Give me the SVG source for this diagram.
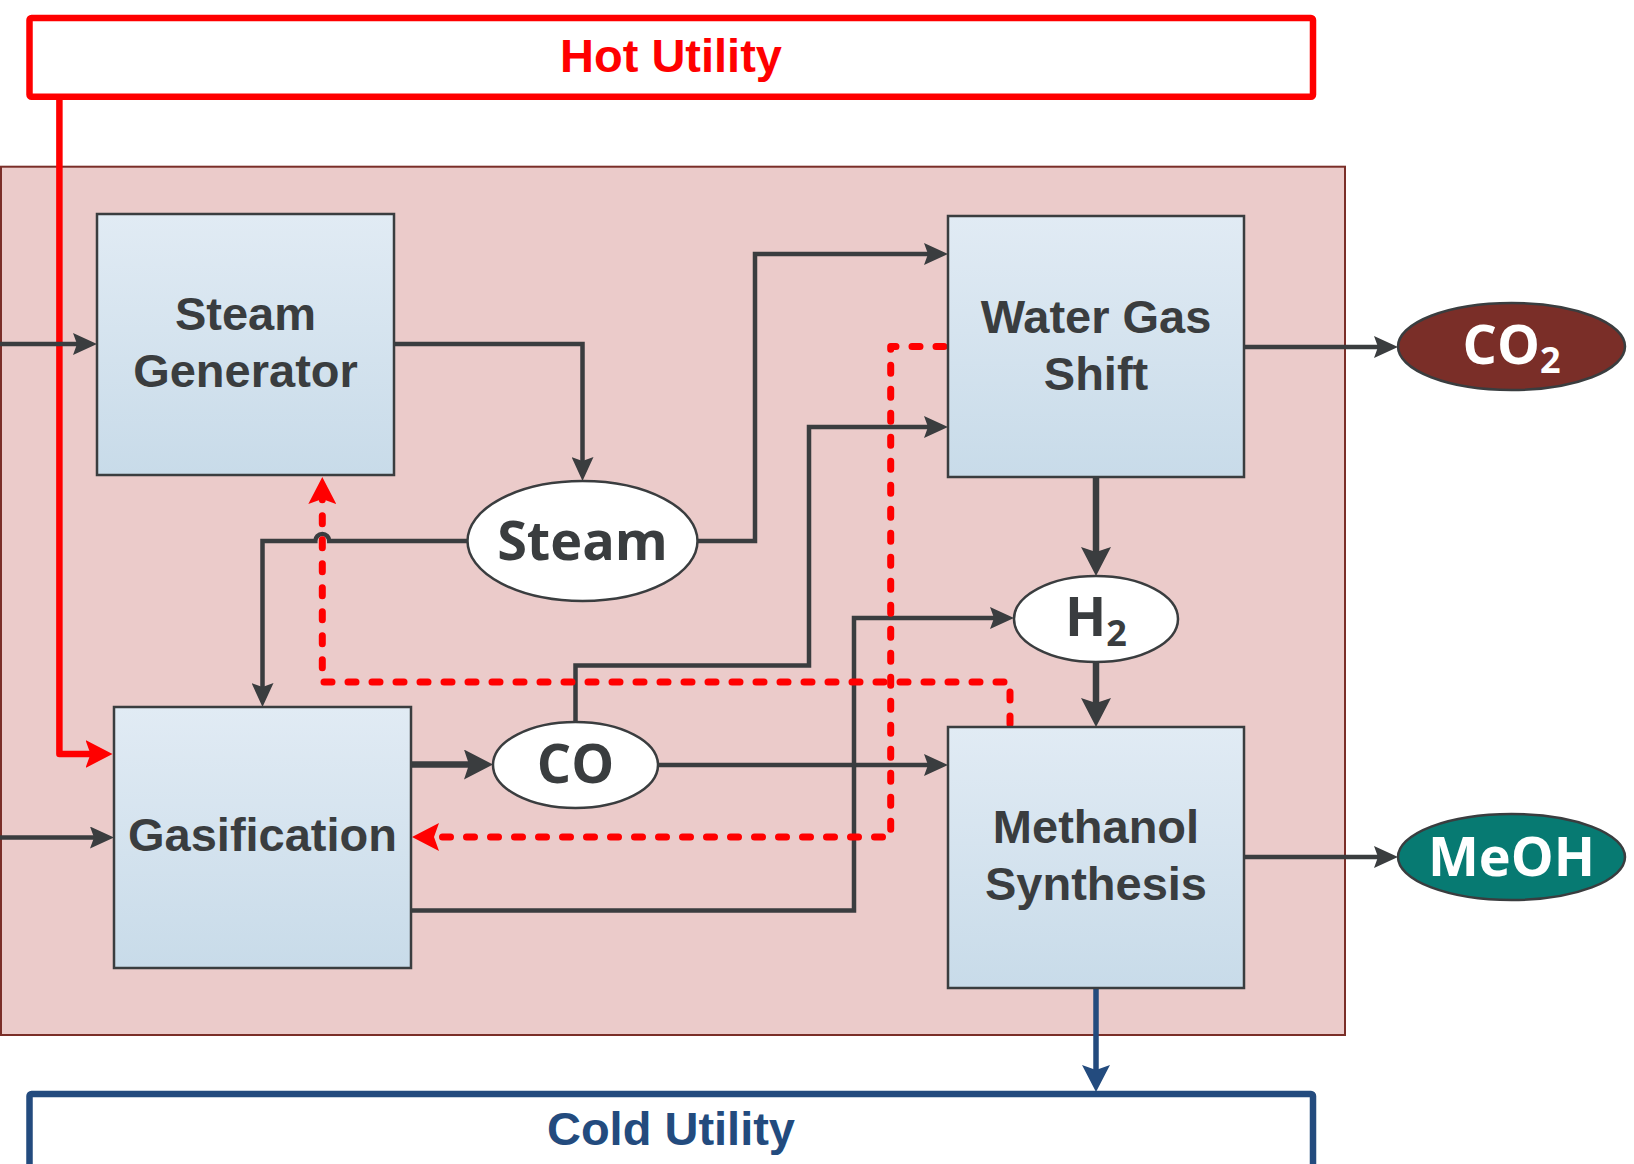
<svg xmlns="http://www.w3.org/2000/svg" width="1634" height="1164" viewBox="0 0 1634 1164">
  <style>
    .proc { stroke: #3A3D3F; stroke-width: 2.5; fill: url(#boxGrad); }
    .ell { stroke: #3A3D3F; stroke-width: 2.5; fill: #FFFFFF; }
    .ptext { font-family: "Liberation Sans", Arial, sans-serif; font-weight: bold; font-size: 47px; fill: #3A3D3F; text-anchor: middle; }
    .etext { font-family: "Open Sans", "Noto Sans", sans-serif; font-weight: bold; font-size: 54px; fill: #3A3D3F; text-anchor: middle; }
    .sub { font-size: 36px; }
    .white { fill: #FFFFFF; }
    .flow { fill: none; stroke: #3A3D3F; stroke-width: 4.5; stroke-linejoin: miter; }
    .flow-thick { fill: none; stroke: #3A3D3F; stroke-width: 6.5; }
    .heat { fill: none; stroke: #FF0000; stroke-width: 7; stroke-dasharray: 8 16; stroke-linecap: round; stroke-linejoin: round; }
    .hot { fill: none; stroke: #FF0000; stroke-width: 6.5; stroke-linejoin: round; }
    .cold { fill: none; stroke: #234B7E; stroke-width: 5.5; }
    .utext { font-family: "Liberation Sans", Arial, sans-serif; font-weight: bold; font-size: 47px; text-anchor: middle; }
  </style>
  <defs>
    <linearGradient id="boxGrad" x1="0" y1="0" x2="0" y2="1">
      <stop offset="0" stop-color="#E1EBF4"/>
      <stop offset="1" stop-color="#C8DBE9"/>
    </linearGradient>
    <marker id="arrDark" markerUnits="userSpaceOnUse" markerWidth="24" markerHeight="22" viewBox="0 0 24 22" refX="12" refY="11" orient="auto">
      <path d="M0,0 L24,11 L0,22 L4,11 Z" fill="#3A3D3F"/>
    </marker>
    <marker id="arrBig" markerUnits="userSpaceOnUse" markerWidth="29" markerHeight="30" viewBox="0 0 29 30" refX="14" refY="15" orient="auto">
      <path d="M0,0 L29,15 L0,30 L5,15 Z" fill="#3A3D3F"/>
    </marker>
    <marker id="arrRed" markerUnits="userSpaceOnUse" markerWidth="27" markerHeight="28" viewBox="0 0 27 28" refX="13" refY="14" orient="auto">
      <path d="M0,0 L27,14 L0,28 L5,14 Z" fill="#FF0000"/>
    </marker>
    <marker id="arrBlue" markerUnits="userSpaceOnUse" markerWidth="27" markerHeight="28" viewBox="0 0 27 28" refX="13" refY="14" orient="auto">
      <path d="M0,0 L27,14 L0,28 L5,14 Z" fill="#234B7E"/>
    </marker>
  </defs>

  <g id="hot-utility">
    <rect x="29.5" y="18" width="1283.5" height="78.7" rx="2" fill="#FFFFFF" stroke="#FF0000" stroke-width="6.5"/>
    <text class="utext" x="671" y="71.5" fill="#FF0000">Hot Utility</text>
  </g>

  <g id="process-boundary">
    <rect x="1" y="166.7" width="1344" height="868.3" fill="#EBCBCA" stroke="#7A2E28" stroke-width="2"/>
  </g>

  <g id="cold-utility">
    <rect x="29.5" y="1094" width="1283.5" height="110" rx="2" fill="#FFFFFF" stroke="#234B7E" stroke-width="6.5"/>
    <text class="utext" x="671" y="1145" fill="#234B7E">Cold Utility</text>
  </g>

  <g id="connectors">
    <path class="hot" d="M59.4,97 L59.4,754 L98.5,754" marker-end="url(#arrRed)"/>
    <path class="flow" d="M0,344 L85,344" marker-end="url(#arrDark)"/>
    <path class="flow" d="M0,837.5 L102,837.5" marker-end="url(#arrDark)"/>
    <path class="flow" d="M394,344 L582.5,344 L582.5,469" marker-end="url(#arrDark)"/>
    <path class="flow" d="M467,541 L329.3,541 A7,7 0 0 0 315.3,541 L262.5,541 L262.5,695" marker-end="url(#arrDark)"/>
    <path class="flow" d="M697,541 L755,541 L755,254 L936,254" marker-end="url(#arrDark)"/>
    <path class="flow" d="M575.5,722 L575.5,665.5 L809,665.5 L809,427 L936,427" marker-end="url(#arrDark)"/>
    <path class="flow-thick" d="M411,764.5 L478,764.5" marker-end="url(#arrBig)"/>
    <path class="flow" d="M658,765 L936,765" marker-end="url(#arrDark)"/>
    <path class="flow" d="M411,910.5 L854,910.5 L854,618 L1002,618" marker-end="url(#arrDark)"/>
    <path class="flow-thick" d="M1096,477 L1096,561" marker-end="url(#arrBig)"/>
    <path class="flow-thick" d="M1096,662 L1096,712" marker-end="url(#arrBig)"/>
    <path class="flow" d="M1244,347 L1386,347" marker-end="url(#arrDark)"/>
    <path class="flow" d="M1244,857 L1386,857" marker-end="url(#arrDark)"/>
    <path class="cold" d="M1096,988 L1096,1078" marker-end="url(#arrBlue)"/>
    <path class="heat" d="M1010,724 L1010,682 L322.3,682 L322.3,491" marker-end="url(#arrRed)"/>
    <path class="heat" d="M944,346.5 L890.7,346.5 L890.7,837 L426,837" marker-end="url(#arrRed)"/>
  </g>

  <g id="steam-generator">
    <rect class="proc" x="97" y="214" width="297" height="261"/>
    <text class="ptext" x="245.5" y="330">Steam</text>
    <text class="ptext" x="245.5" y="387">Generator</text>
  </g>

  <g id="water-gas-shift">
    <rect class="proc" x="948" y="216" width="296" height="261"/>
    <text class="ptext" x="1096" y="333">Water Gas</text>
    <text class="ptext" x="1096" y="390">Shift</text>
  </g>

  <g id="gasification">
    <rect class="proc" x="114" y="707" width="297" height="261"/>
    <text class="ptext" x="262.5" y="851">Gasification</text>
  </g>

  <g id="methanol-synthesis">
    <rect class="proc" x="948" y="727" width="296" height="261"/>
    <text class="ptext" x="1096" y="843">Methanol</text>
    <text class="ptext" x="1096" y="900">Synthesis</text>
  </g>

  <g id="steam">
    <ellipse class="ell" cx="582.5" cy="541" rx="115" ry="60"/>
    <text class="etext" x="582.5" y="560">Steam</text>
  </g>

  <g id="co">
    <ellipse class="ell" cx="575.5" cy="765" rx="82.5" ry="43"/>
    <text class="etext" x="575.5" y="783">CO</text>
  </g>

  <g id="h2">
    <ellipse class="ell" cx="1096" cy="619" rx="82" ry="43"/>
    <text class="etext" x="1096" y="636">H<tspan class="sub" dy="10">2</tspan></text>
  </g>

  <g id="co2">
    <ellipse cx="1511.5" cy="346.5" rx="113.5" ry="43.5" fill="#7A2E28" stroke="#3A3D3F" stroke-width="2.5"/>
    <text class="etext white" x="1511.5" y="364">CO<tspan class="sub" dy="9">2</tspan></text>
  </g>

  <g id="meoh">
    <ellipse cx="1511.5" cy="857" rx="113.5" ry="43" fill="#077A72" stroke="#3A3D3F" stroke-width="2.5"/>
    <text class="etext white" x="1511.5" y="876">MeOH</text>
  </g>
</svg>
